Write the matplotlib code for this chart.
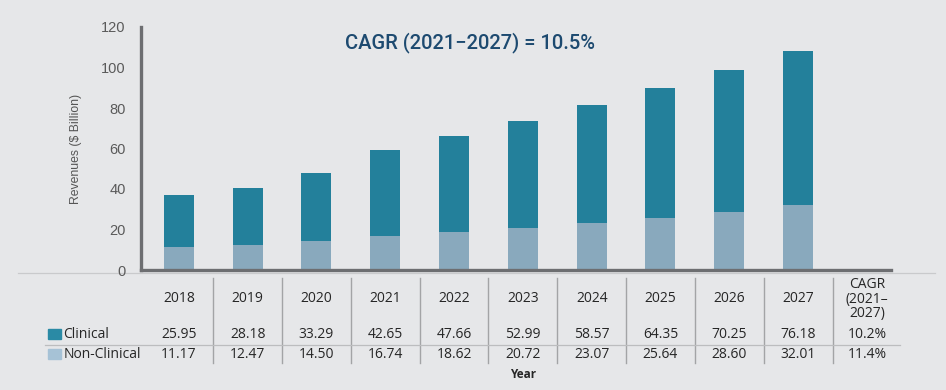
import matplotlib
matplotlib.use("Agg")
import matplotlib.pyplot as plt
import matplotlib.patches as patches

years = ["2018", "2019", "2020", "2021", "2022", "2023", "2024", "2025", "2026", "2027"]
clinical = [25.95, 28.18, 33.29, 42.65, 47.66, 52.99, 58.57, 64.35, 70.25, 76.18]
non_clinical = [11.17, 12.47, 14.50, 16.74, 18.62, 20.72, 23.07, 25.64, 28.60, 32.01]
cagr_header = "CAGR\n(2021–\n2027)"
cagr_values = ["10.2%", "11.4%"]
series_names = ["Clinical", "Non-Clinical"]
title_text = "CAGR (2021\u22122027) = 10.5%"

bg = "#e6e7e9"
c_clin = "#23809b"
c_non = "#89a9bd"
axis_col = "#6d6e71"
W, H = 946, 390

fig = plt.figure(figsize=(W / 100, H / 100), dpi=100, facecolor=bg)

# pixel layout of the plotting area
left_px, right_px, top_px, zero_px = 141, 891, 27, 270
ax = fig.add_axes([left_px / W, 1 - zero_px / H, (right_px - left_px) / W, (zero_px - top_px) / H])
ax.set_facecolor(bg)
xlim = (-0.55, 10.35)
ax.set_xlim(*xlim)
ax.set_ylim(0, 120)

xs = list(range(len(years)))
ax.bar(xs, non_clinical, width=0.436, color=c_non, zorder=2)
ax.bar(xs, clinical, width=0.436, bottom=non_clinical, color=c_clin, zorder=2)

for s in ["top", "right"]:
    ax.spines[s].set_visible(False)
for s in ["left", "bottom"]:
    ax.spines[s].set_color(axis_col)
    ax.spines[s].set_linewidth(2.4)
ax.set_xticks([])
ax.set_yticks(range(0, 121, 20))
ax.tick_params(axis="y", length=0, pad=11, labelsize=10.5, labelcolor="#5a5a5a")
for lab in ax.get_yticklabels():
    lab.set_fontfamily("Liberation Sans")
ax.set_ylabel("Revenues ($ Billion)", fontsize=8.8, color="#555555",
              family="Liberation Sans", labelpad=14)

fig.text(470 / W, 1 - 43 / H, title_text, ha="center", va="center",
         fontsize=14.5, fontweight="medium", color="#1d4a70", family="Roboto")

# conversion helpers for table decoration
px_per_x = (right_px - left_px) / (xlim[1] - xlim[0])
def px2x(p):
    return xlim[0] + (p - left_px) / px_per_x

# thin baseline below the axis
ax.plot([px2x(18), px2x(935)], [-1.5, -1.5], color="#c9cacc", lw=0.9,
        clip_on=False, zorder=1)

# table axes below the chart
tab_top = 275
axt = fig.add_axes([left_px / W, 0, (right_px - left_px) / W, (H - tab_top) / H])
axt.set_xlim(*xlim)
axt.set_ylim(H - tab_top, 0)
axt.axis("off")

def ty(p):
    return p - tab_top

tfont = dict(family="Open Sans", fontsize=10, color="#262626", ha="center", va="center")
ncol = len(years) + 1
for i, y in enumerate(years):
    axt.text(i, ty(299), y, **tfont)
    axt.text(i, ty(334), f"{clinical[i]:.2f}", **tfont)
    axt.text(i, ty(354), f"{non_clinical[i]:.2f}", **tfont)
axt.text(len(years), ty(299), cagr_header, linespacing=1.0, **tfont)
axt.text(len(years), ty(334), cagr_values[0], **tfont)
axt.text(len(years), ty(354), cagr_values[1], **tfont)

for i in range(ncol - 1):
    axt.plot([i + 0.5, i + 0.5], [ty(278), ty(363)], color="#a3a4a6", lw=1.0, clip_on=False)
axt.plot([px2x(45), px2x(900)], [ty(345), ty(345)], color="#bcbdbf", lw=0.9, clip_on=False)

# legend keys in the table
for name, col, yp in [(series_names[0], "#2a8aa5", 334), (series_names[1], "#a6c2d6", 354)]:
    axt.add_patch(patches.Rectangle((px2x(48), ty(yp - 5)), 13 / px_per_x, 10,
                                    color=col, clip_on=False))
    axt.text(px2x(63.5), ty(yp), name, family="Open Sans", fontsize=10,
             color="#262626", ha="left", va="center", clip_on=False)

axt.text((len(years)) / 2, ty(374), "Year", family="Open Sans", fontsize=8.5,
         fontweight="bold", color="#262626", ha="center", va="center")

fig.savefig("out.png", dpi=100, facecolor=bg)
